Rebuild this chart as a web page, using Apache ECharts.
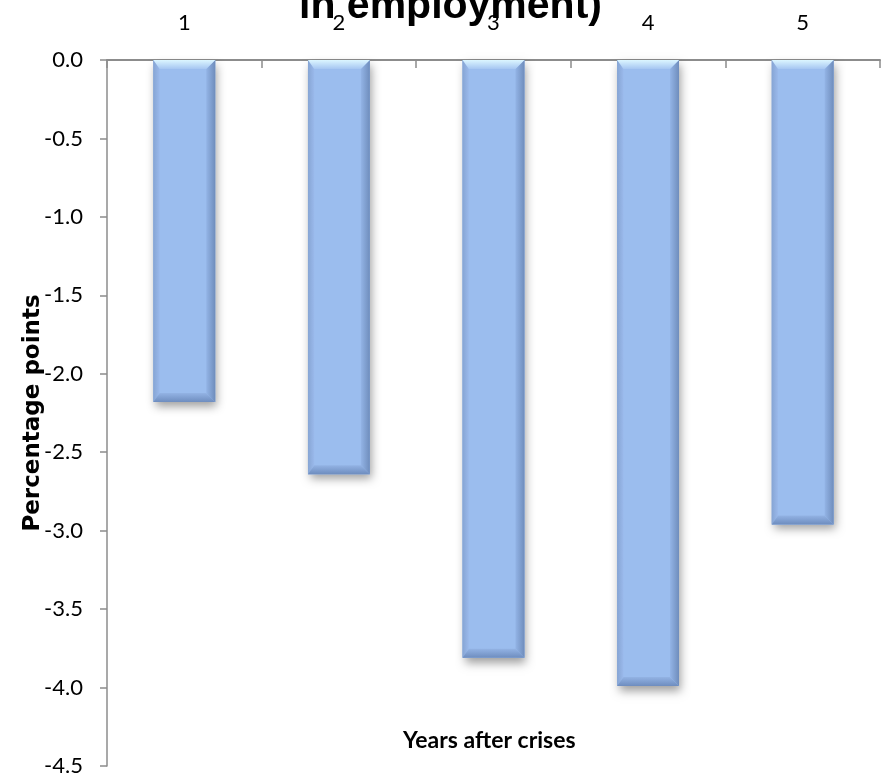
<!DOCTYPE html>
<html>
<head>
<meta charset="utf-8">
<style>
  html, body { margin: 0; padding: 0; background: #ffffff; }
  #chart { width: 883px; height: 784px; }
</style>
<script src="https://cdn.jsdelivr.net/npm/echarts@6/dist/echarts.min.js"></script>
</head>
<body>
<div id="chart"></div>
<script>
// Years after the crisis and the change in employment (percentage points)
const years = ['1', '2', '3', '4', '5'];
const change = [-2.18, -2.64, -3.81, -3.99, -2.96];

const yMin = -4.5;
const yMax = 0;
const yStep = 0.5;

const titleText = 'in employment)';
const xName = 'Years after crises';
const yName = 'Percentage points';

const tickFont = "Lato, 'Liberation Sans', sans-serif";

const chart = echarts.init(document.getElementById('chart'), null, { renderer: 'canvas' });

// Bevelled bar: flat face, light top edge, darker right and bottom edges, soft drop shadow
function renderBar(params, api) {
  const base = api.coord([api.value(0), 0]);
  const end = api.coord([api.value(0), api.value(1)]);
  const bw = api.size([1, 0])[0] * 0.4;
  const l = base[0] - bw / 2;
  const r = base[0] + bw / 2;
  const t = Math.min(base[1], end[1]);
  const b = Math.max(base[1], end[1]);
  const bev = 9;
  const lin = (x1, y1, x2, y2, stops) => new echarts.graphic.LinearGradient(x1, y1, x2, y2, stops);
  return {
    type: 'group',
    children: [
      {
        type: 'rect',
        shape: { x: l, y: t, width: bw, height: b - t },
        style: {
          fill: '#9bbdee',
          shadowBlur: 9,
          shadowOffsetX: 2,
          shadowOffsetY: 5,
          shadowColor: 'rgba(0,0,0,0.38)'
        }
      },
      {
        type: 'rect',
        shape: { x: l, y: t, width: bw, height: b - t },
        style: {
          fill: lin(0, 0, 1, 0, [
            { offset: 0, color: '#8aa9d8' },
            { offset: 0.08, color: '#9bbdee' },
            { offset: 0.88, color: '#9bbdee' },
            { offset: 1, color: '#92b3e4' }
          ])
        }
      },
      {
        // right edge
        type: 'polygon',
        shape: { points: [[r, t], [r, b], [r - bev, b - bev], [r - bev, t + bev]] },
        style: {
          fill: lin(0, 0, 1, 0, [
            { offset: 0, color: '#93b4e6' },
            { offset: 1, color: '#6f8dbc' }
          ])
        }
      },
      {
        // left edge
        type: 'polygon',
        shape: { points: [[l, t], [l, b], [l + bev * 0.7, b - bev], [l + bev * 0.7, t + bev]] },
        style: {
          fill: lin(0, 0, 1, 0, [
            { offset: 0, color: '#86a5d4' },
            { offset: 1, color: '#9ab9eb' }
          ])
        }
      },
      {
        // bottom edge
        type: 'polygon',
        shape: { points: [[l, b], [r, b], [r - bev, b - bev], [l + bev * 0.7, b - bev]] },
        style: {
          fill: lin(0, 0, 0, 1, [
            { offset: 0, color: '#93b3e4' },
            { offset: 1, color: '#6e8dbf' }
          ])
        }
      },
      {
        // top highlight
        type: 'polygon',
        shape: { points: [[l, t], [r, t], [r - bev, t + bev], [l + bev * 0.7, t + bev]] },
        style: {
          fill: lin(0, 0, 0, 1, [
            { offset: 0, color: '#dcf6ff' },
            { offset: 1, color: '#a6c6f2' }
          ])
        }
      }
    ]
  };
}

const option = {
  backgroundColor: '#ffffff',
  animation: false,
  title: {
    text: titleText,
    left: 294,
    top: -19,
    textStyle: {
      fontFamily: "'Liberation Sans', Arial, sans-serif",
      fontWeight: 'bold',
      fontSize: 41,
      color: '#000000'
    }
  },
  grid: { left: 107, right: 3, top: 60, bottom: 18, containLabel: false },
  xAxis: {
    type: 'category',
    position: 'top',
    data: years,
    boundaryGap: true,
    axisLine: { show: true, lineStyle: { color: '#8c8c8c', width: 2 } },
    axisTick: { show: true, inside: true, length: 8, lineStyle: { color: '#8c8c8c', width: 1.5 } },
    axisLabel: {
      margin: 26,
      fontFamily: tickFont,
      fontSize: 22,
      color: '#000000'
    },
    splitLine: { show: false }
  },
  yAxis: {
    type: 'value',
    min: yMin,
    max: yMax,
    interval: yStep,
    name: yName,
    nameLocation: 'middle',
    nameGap: 62,
    nameMoveOverlap: false,
    nameRotate: 90,
    nameTextStyle: {
      fontFamily: "'DejaVu Sans', sans-serif",
      fontWeight: 'bold',
      fontSize: 23,
      color: '#000000'
    },
    axisLine: { show: true, lineStyle: { color: '#8c8c8c', width: 1.5 } },
    axisTick: { show: true, inside: false, length: 7, lineStyle: { color: '#8c8c8c', width: 1.5 } },
    axisLabel: {
      margin: 24,
      fontFamily: tickFont,
      fontSize: 22,
      color: '#000000',
      formatter: (v) => v.toFixed(1)
    },
    splitLine: { show: false }
  },
  graphic: [
    {
      type: 'text',
      left: 403,
      top: 729,
      style: {
        text: xName,
        font: "bold 23px Lato, 'Liberation Sans', sans-serif",
        fill: '#000000'
      }
    }
  ],
  series: [
    {
      type: 'custom',
      renderItem: renderBar,
      encode: { x: 0, y: 1 },
      data: years.map((y, i) => [i, change[i]]),
      clip: false
    }
  ]
};

chart.setOption(option);
</script>
</body>
</html>
